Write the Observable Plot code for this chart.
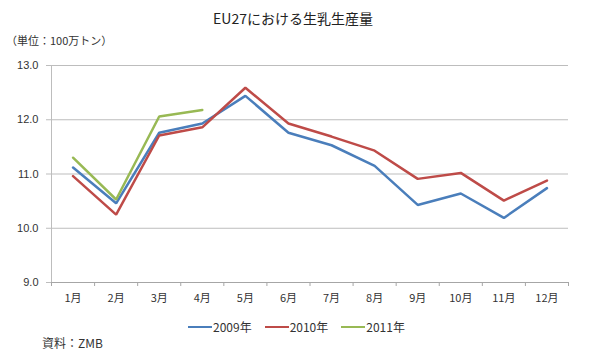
<!DOCTYPE html>
<html><head><meta charset="utf-8">
<script src="https://cdn.jsdelivr.net/npm/d3@7"></script>
<script src="https://cdn.jsdelivr.net/npm/@observablehq/plot@0.6"></script>
<style>
body{margin:0;background:#fff;font-family:"Noto Sans CJK JP","Noto Sans",sans-serif;color:#333;}
#wrap{position:relative;width:600px;height:358px;overflow:hidden;}
.abs{position:absolute;white-space:nowrap;}
#title{top:8px;left:0;width:586px;text-align:center;font-size:14px;color:#222;}
#unit{top:32px;left:6px;font-size:11px;color:#333;}
#src{top:334px;left:42px;font-size:12px;color:#333;}
#legend{top:318px;left:188px;font-size:12px;color:#333;display:flex;align-items:center;}
.item{display:flex;align-items:center;margin-right:13px;}
.sw{width:24px;height:0;border-top:2.5px solid;margin-right:1px;}
#chart{position:absolute;top:0;left:0;}
</style></head>
<body>
<div id="wrap">
<div id="chart"></div>
<div id="title" class="abs">EU27における生乳生産量</div>
<div id="unit" class="abs">（単位：100万トン）</div>
<div id="legend" class="abs"></div>
<div id="src" class="abs">資料：ZMB</div>
</div>
<script>
const months = ["1月","2月","3月","4月","5月","6月","7月","8月","9月","10月","11月","12月"];
const seriesNames = ["2009年","2010年","2011年"];
const v2009 = [11.12,10.46,11.76,11.93,12.44,11.76,11.53,11.15,10.43,10.64,10.19,10.74];
const v2010 = [10.96,10.25,11.71,11.86,12.59,11.93,11.69,11.43,10.91,11.02,10.51,10.88];
const v2011 = [11.30,10.53,12.06,12.18];
const colors = ["#4a7ebb","#be4b48","#98b954"];
const yTicks = [9,10,11,12,13];

const table = [];
[v2009, v2010, v2011].forEach((vals, s) => {
  vals.forEach((v, i) => table.push({series: seriesNames[s], m: i + 1, month: months[i], value: v}));
});

const font = "'Liberation Sans','Noto Sans CJK JP',sans-serif";
const chart = Plot.plot({
  width: 600, height: 358,
  marginTop: 65, marginBottom: 76, marginLeft: 51, marginRight: 32,
  style: {fontFamily: font, fontSize: "11px", color: "#333", background: "transparent"},
  x: {type: "linear", domain: [0.5, 12.5]},
  y: {domain: [9, 13]},
  color: {domain: seriesNames, range: colors},
  marks: [
    Plot.gridY(yTicks, {stroke: "#bdbdbd", strokeOpacity: 1, strokeWidth: 1}),
    Plot.axisY({ticks: yTicks, tickSize: 5, tickPadding: 8, stroke: "#bdbdbd", tickFormat: d3.format(".1f"), label: null, fill: "#333", fontSize: 11}),
    Plot.ruleX([0.5], {stroke: "#bdbdbd"}),
    Plot.ruleY([9], {stroke: "#a6a6a6"}),
    Plot.axisX({ticks: d3.range(0.5, 13, 1), tickSize: 4, tickFormat: () => "", stroke: "#a6a6a6", label: null}),
    Plot.axisX({ticks: d3.range(1, 13), tickSize: 0, tickPadding: 12, tickFormat: i => months[i - 1], label: null, fill: "#333", fontSize: 11, fontFamily: "'Noto Sans CJK JP',sans-serif"}),
    Plot.line(table, {x: "m", y: "value", z: "series", stroke: "series", strokeWidth: 2.5, strokeLinejoin: "miter"})
  ]
});
document.getElementById("chart").appendChild(chart);

const legend = document.getElementById("legend");
seriesNames.forEach((n, i) => {
  const it = document.createElement("div");
  it.className = "item";
  it.innerHTML = `<span class="sw" style="border-color:${colors[i]}"></span><span>${n}</span>`;
  legend.appendChild(it);
});
</script>
</body></html>
